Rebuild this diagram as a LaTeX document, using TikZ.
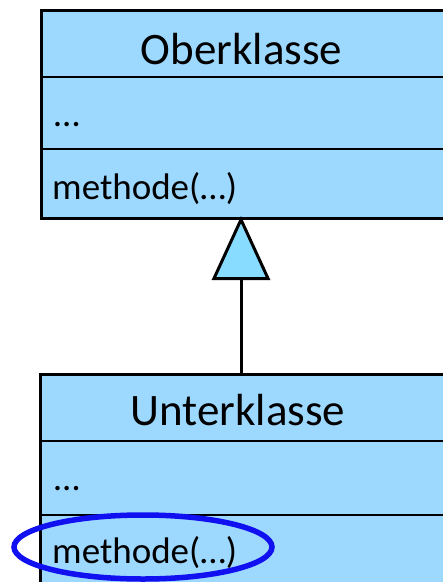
\documentclass[tikz,border=0pt]{standalone}
\usepackage{fontspec}
\setmainfont{Carlito}
\usetikzlibrary{arrows.meta}
\definecolor{classfill}{RGB}{157,217,255}
\definecolor{tipfill}{RGB}{136,220,255}
\definecolor{markblue}{RGB}{16,16,240}
\tikzset{
  classbox/.style={draw=black, fill=classfill, line width=3pt, rectangle,
    anchor=north west, inner sep=0pt, minimum width=404pt},
  divider/.style={line width=2.5pt},
  titletext/.style={anchor=base, font=\fontsize{45}{54}\selectfont, inner sep=0pt},
  membertext/.style={anchor=base west, font=\fontsize{37}{44}\selectfont, inner sep=0pt},
  inherit/.style={line width=3pt, -{Triangle[length=64pt, width=58pt, fill=tipfill, line join=miter]}},
  highlight/.style={draw=markblue, line width=5.5pt}
}
\begin{document}
\begin{tikzpicture}[x=1pt, y=-1pt]
\useasboundingbox (0,0) rectangle (443,582);

% superclass
\node[classbox, minimum height=208pt] (ober) at (40,9) {};
\draw[divider] ([yshift=-68pt]ober.north west) -- ([yshift=-68pt]ober.north east);
\draw[divider] ([yshift=-140pt]ober.north west) -- ([yshift=-140pt]ober.north east);
\node[titletext] (obername) at (241.5,64) {Oberklasse};
\node[membertext] (oberattr) at (54,126) {…};
\node[membertext] (obermeth) at (52,199) {methode(…)};

% subclass
\node[classbox, minimum height=245pt] (unter) at (39,373) {};
\draw[divider] ([yshift=-68pt]unter.north west) -- ([yshift=-68pt]unter.north east);
\draw[divider] ([yshift=-142pt]unter.north west) -- ([yshift=-142pt]unter.north east);
\node[titletext] (untername) at (238,425) {Unterklasse};
\node[membertext] (unterattr) at (54,490) {…};
\node[membertext] (untermeth) at (52,563) {methode(…)};

% generalisation: the open triangle touches the superclass
\draw[inherit] (unter.north -| 241,0) -- ([yshift=4pt]ober.south -| 241,0);

% overridden method
\draw[highlight] (143,547) ellipse [x radius=129pt, y radius=32pt];
\end{tikzpicture}
\end{document}
